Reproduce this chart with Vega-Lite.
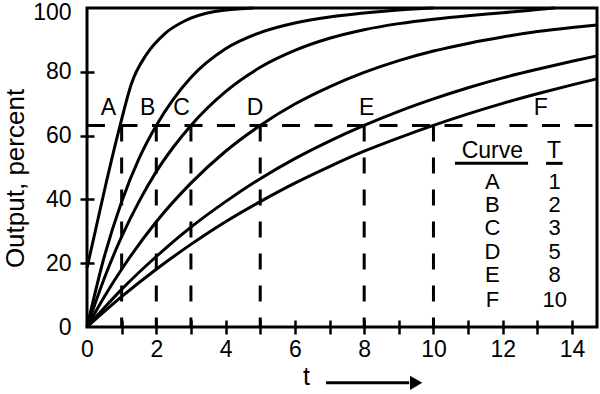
{
  "$schema": "https://vega.github.io/schema/vega-lite/v6.json",
  "width": 510,
  "height": 319,
  "autosize": {"type": "none"},
  "padding": {"left": 87, "top": 8, "right": 3, "bottom": 67},
  "background": "white",
  "config": {
    "font": "Liberation Sans",
    "view": {"stroke": "black", "strokeWidth": 3},
    "axis": {"domain": false, "grid": false, "tickColor": "black", "tickWidth": 2.5, "labelColor": "black", "titleColor": "black", "labelFontSize": 23, "titleFontSize": 23, "titleFontWeight": "normal", "labelFont": "Liberation Sans", "titleFont": "Liberation Sans", "labelFlush": false, "labelOverlap": false},
    "text": {"font": "Liberation Sans", "fontSize": 23, "color": "black"}
  },
  "datasets": {
    "curves": [
      {"curve": "A", "t": 0, "v": 18.5}, {"curve": "A", "t": 0.3, "v": 33}, {"curve": "A", "t": 0.57, "v": 46}, {"curve": "A", "t": 0.95, "v": 63}, {"curve": "A", "t": 1.29, "v": 76.5}, {"curve": "A", "t": 1.72, "v": 85.5}, {"curve": "A", "t": 2.25, "v": 92}, {"curve": "A", "t": 2.83, "v": 96}, {"curve": "A", "t": 3.69, "v": 98.9}, {"curve": "A", "t": 4.8, "v": 100},
      {"curve": "B", "t": 0, "v": 0}, {"curve": "B", "t": 0.5, "v": 22.1}, {"curve": "B", "t": 1, "v": 39.3}, {"curve": "B", "t": 1.5, "v": 52.8}, {"curve": "B", "t": 2, "v": 63.2}, {"curve": "B", "t": 2.5, "v": 71.5}, {"curve": "B", "t": 3, "v": 78.2}, {"curve": "B", "t": 4, "v": 87.2}, {"curve": "B", "t": 5, "v": 92.3}, {"curve": "B", "t": 6, "v": 95.3}, {"curve": "B", "t": 7, "v": 97.2}, {"curve": "B", "t": 8, "v": 98.4}, {"curve": "B", "t": 9, "v": 99.4}, {"curve": "B", "t": 10, "v": 100},
      {"curve": "C", "t": 0, "v": 0}, {"curve": "C", "t": 0.5, "v": 15.3}, {"curve": "C", "t": 1, "v": 28.3}, {"curve": "C", "t": 1.5, "v": 39.3}, {"curve": "C", "t": 2, "v": 48.7}, {"curve": "C", "t": 2.5, "v": 56.5}, {"curve": "C", "t": 3, "v": 63.2}, {"curve": "C", "t": 4, "v": 73.8}, {"curve": "C", "t": 5, "v": 81.4}, {"curve": "C", "t": 6, "v": 86.7}, {"curve": "C", "t": 7, "v": 90.5}, {"curve": "C", "t": 8, "v": 93.2}, {"curve": "C", "t": 9, "v": 95.1}, {"curve": "C", "t": 10, "v": 96.5}, {"curve": "C", "t": 11, "v": 97.6}, {"curve": "C", "t": 12, "v": 98.5}, {"curve": "C", "t": 13, "v": 99.5}, {"curve": "C", "t": 13.5, "v": 100},
      {"curve": "D", "t": 0, "v": 0}, {"curve": "D", "t": 0.5, "v": 9.5}, {"curve": "D", "t": 1, "v": 18.1}, {"curve": "D", "t": 2, "v": 33}, {"curve": "D", "t": 3, "v": 45.1}, {"curve": "D", "t": 4, "v": 55.1}, {"curve": "D", "t": 5, "v": 63.2}, {"curve": "D", "t": 6, "v": 69.9}, {"curve": "D", "t": 7, "v": 75.3}, {"curve": "D", "t": 8, "v": 79.8}, {"curve": "D", "t": 9, "v": 83.5}, {"curve": "D", "t": 10, "v": 86.5}, {"curve": "D", "t": 11, "v": 88.9}, {"curve": "D", "t": 12, "v": 90.9}, {"curve": "D", "t": 13, "v": 92.6}, {"curve": "D", "t": 14, "v": 93.9}, {"curve": "D", "t": 14.72, "v": 94.7},
      {"curve": "E", "t": 0, "v": 0}, {"curve": "E", "t": 1, "v": 11.8}, {"curve": "E", "t": 2, "v": 22.1}, {"curve": "E", "t": 3, "v": 31.3}, {"curve": "E", "t": 4, "v": 39.3}, {"curve": "E", "t": 5, "v": 46.5}, {"curve": "E", "t": 6, "v": 52.8}, {"curve": "E", "t": 7, "v": 58.3}, {"curve": "E", "t": 8, "v": 63.2}, {"curve": "E", "t": 9, "v": 67.6}, {"curve": "E", "t": 10, "v": 71.5}, {"curve": "E", "t": 11, "v": 75}, {"curve": "E", "t": 12, "v": 78.1}, {"curve": "E", "t": 13, "v": 80.8}, {"curve": "E", "t": 14, "v": 83.3}, {"curve": "E", "t": 14.72, "v": 85},
      {"curve": "F", "t": 0, "v": 0}, {"curve": "F", "t": 1, "v": 9.5}, {"curve": "F", "t": 2, "v": 18.1}, {"curve": "F", "t": 3, "v": 25.9}, {"curve": "F", "t": 4, "v": 33}, {"curve": "F", "t": 5, "v": 39.3}, {"curve": "F", "t": 6, "v": 45.1}, {"curve": "F", "t": 7, "v": 50.3}, {"curve": "F", "t": 8, "v": 55.1}, {"curve": "F", "t": 9, "v": 59.3}, {"curve": "F", "t": 10, "v": 63.2}, {"curve": "F", "t": 11, "v": 66.8}, {"curve": "F", "t": 12, "v": 70.1}, {"curve": "F", "t": 13, "v": 73.1}, {"curve": "F", "t": 14, "v": 75.9}, {"curve": "F", "t": 14.72, "v": 77.8}
    ]
  },
  "encoding": {
    "x": {"field": "t", "type": "quantitative", "scale": {"domain": [0, 14.72], "nice": false, "zero": false},
      "axis": {"title": "t", "values": [0,1,2,3,4,5,6,7,8,9,10,11,12,13,14], "labelExpr": "datum.value % 2 === 0 ? datum.label : ''", "tickSize": 14, "offset": -7, "labelPadding": 4,
        "tickOpacity": {"condition": {"test": "datum.value === 0", "value": 0}, "value": 1},
        "titleX": 219, "titleY": 64, "titleAlign": "center", "titleBaseline": "alphabetic", "titleFontSize": 25}},
    "y": {"field": "v", "type": "quantitative", "scale": {"domain": [0, 100], "nice": false, "zero": false},
      "axis": {"title": "Output, percent", "values": [0,20,40,60,80,100], "tickSize": 14, "offset": -7, "labelPadding": 9,
        "tickOpacity": {"condition": {"test": "datum.value === 0 || datum.value === 100", "value": 0}, "value": 1},
        "labelOffset": {"condition": {"test": "datum.value === 100", "value": 4}, "value": 0},
        "titleX": -79, "titleY": 170, "titleAlign": "center", "titleBaseline": "middle", "titleAngle": -90, "titleFontSize": 26}}
  },
  "layer": [
    {
      "data": {"name": "curves"},
      "mark": {"type": "line", "color": "black", "strokeWidth": 3, "interpolate": "monotone"},
      "encoding": {"detail": {"field": "curve"}}
    },
    {
      "data": {"values": [{"t": 0, "t2": 14.72, "v": 63.2}]},
      "mark": {"type": "rule", "color": "black", "strokeWidth": 3, "strokeDash": [18, 14.5]},
      "encoding": {"x2": {"field": "t2"}}
    },
    {
      "data": {"values": [{"t": 1, "v": 63.2, "v0": 0}, {"t": 2, "v": 63.2, "v0": 0}, {"t": 3, "v": 63.2, "v0": 0}, {"t": 5, "v": 63.2, "v0": 0}, {"t": 8, "v": 63.2, "v0": 0}, {"t": 10, "v": 63.2, "v0": 0}]},
      "mark": {"type": "rule", "color": "black", "strokeWidth": 3, "strokeDash": [16, 16]},
      "encoding": {"y2": {"field": "v0"}}
    },
    {
      "data": {"values": [
        {"lab": "A", "t": 0.62, "v": 68.7}, {"lab": "B", "t": 1.75, "v": 68.7}, {"lab": "C", "t": 2.73, "v": 68.7}, {"lab": "D", "t": 4.85, "v": 68.7}, {"lab": "E", "t": 8.07, "v": 68.7}, {"lab": "F", "t": 13.1, "v": 68.7},
        {"lab": "Curve", "t": 11.7, "v": 55.2}, {"lab": "T", "t": 13.48, "v": 55.2}
      ]},
      "mark": {"type": "text", "align": "center", "baseline": "middle", "fontSize": 23},
      "encoding": {"text": {"field": "lab"}}
    },
    {
      "data": {"values": [
        {"lab": "A", "t": 11.7, "v": 45.5}, {"lab": "B", "t": 11.7, "v": 38.2}, {"lab": "C", "t": 11.7, "v": 30.9}, {"lab": "D", "t": 11.7, "v": 23.4}, {"lab": "E", "t": 11.7, "v": 16.3}, {"lab": "F", "t": 11.7, "v": 8.5},
        {"lab": "1", "t": 13.5, "v": 45.5}, {"lab": "2", "t": 13.5, "v": 38.2}, {"lab": "3", "t": 13.5, "v": 30.9}, {"lab": "5", "t": 13.5, "v": 23.4}, {"lab": "8", "t": 13.5, "v": 16.3}, {"lab": "10", "t": 13.5, "v": 8.5}
      ]},
      "mark": {"type": "text", "align": "center", "baseline": "middle", "fontSize": 22},
      "encoding": {"text": {"field": "lab"}}
    },
    {
      "data": {"values": [{"t": 10.62, "t2": 12.73, "v": 51.3}, {"t": 13.25, "t2": 13.73, "v": 51.3}, {"t": 6.9, "t2": 9.3, "v": -17.5}]},
      "mark": {"type": "rule", "color": "black", "strokeWidth": 3},
      "encoding": {"x2": {"field": "t2"}}
    },
    {
      "data": {"values": [{"t": 9.5, "v": -17.5}]},
      "mark": {"type": "point", "shape": "triangle-right", "filled": true, "color": "black", "opacity": 1, "size": 200}
    }
  ]
}
